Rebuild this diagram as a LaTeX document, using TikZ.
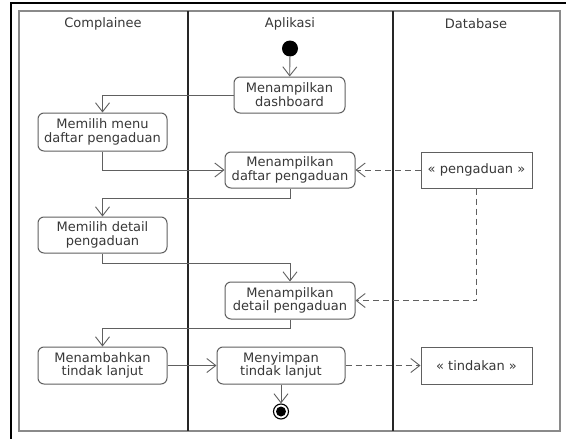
\documentclass[tikz,border=0pt]{standalone}
\usepackage{fontspec}
\setmainfont{DejaVu Sans}
\usetikzlibrary{arrows.meta}
\definecolor{txt}{HTML}{383838}
\definecolor{edge}{HTML}{606060}
\definecolor{frame}{HTML}{8A8A8A}
\begin{document}
\begin{tikzpicture}[x=1pt,y=-1pt,
  every node/.style={font=\fontsize{13}{13.8}\selectfont,text=txt,align=center,inner sep=0pt},
  act/.style={draw=edge,line width=1pt,rounded corners=6pt,minimum height=36pt},
  obj/.style={draw=edge,line width=1pt,minimum height=36pt},
  flow/.style={draw=edge,line width=0.9pt,-{Straight Barb[length=9pt,width=14pt,line width=0.9pt]}},
  objflow/.style={flow,dash pattern=on 6pt off 4pt}]
\useasboundingbox (0,0) rectangle (566,439);
\fill[white] (0,0) rectangle (566,439);
% outer frame (left and top edges)
\draw[black,line width=1.6pt] (11,439) -- (11,3) -- (566,3);
% swimlanes
\draw[frame,line width=1.1pt] (19,11) rectangle (560,431);
\draw[black!85,line width=1.1pt] (188,11) -- (188,431);
\draw[black!85,line width=1.1pt] (393,11) -- (393,431);
\node (hc) at (103,24) {Complainee};
\node (ha) at (290,24) {Aplikasi};
\node (hd) at (476,24) {Database};
% actions and objects
\node[circle,fill=black,minimum size=16pt] (start) at (290,48.5) {};
\node[act,minimum width=111pt] (dash) at (289.5,95) {Menampilkan\\dashboard};
\node[act,minimum width=129pt,minimum height=38pt] (menu) at (102.5,132) {Memilih menu\\daftar pengaduan};
\node[act,minimum width=130pt] (daftar) at (290,170) {Menampilkan\\daftar pengaduan};
\node[obj,minimum width=111pt] (peng) at (476.5,170) {« pengaduan »};
\node[act,minimum width=129pt] (detail) at (102.5,235) {Memilih detail\\pengaduan};
\node[act,minimum width=130pt,minimum height=37pt] (showdet) at (290,300.5) {Menampilkan\\detail pengaduan};
\node[act,minimum width=129pt,minimum height=37pt] (tambah) at (102.5,365.5) {Menambahkan\\tindak lanjut};
\node[act,minimum width=128pt,minimum height=37pt] (simpan) at (281,365.5) {Menyimpan\\tindak lanjut};
\node[obj,minimum width=111pt,minimum height=37pt] (tind) at (476.5,365.5) {« tindakan »};
\node[circle,draw=black,line width=1.1pt,minimum size=15pt] (end) at (281,411.5) {};
\fill[black] (end.center) circle (5pt);
% control flow
\draw[flow] (start) -- (dash);
\draw[flow] (dash.west) -| (menu.north);
\draw[flow] (menu.south) |- (daftar.west);
\draw[flow] (daftar.south) -- ++(0,10) -| (detail.north);
\draw[flow] (detail.south) -- ++(0,10) -| (showdet.north);
\draw[flow] (showdet.south) -- ++(0,9) -| (tambah.north);
\draw[flow] (tambah.east) -- (simpan.west);
\draw[flow] (simpan.south) -- (end.north);
% object flow
\draw[objflow] (peng.west) -- (daftar.east);
\draw[objflow] (peng.south) |- (showdet.east);
\draw[objflow] (simpan.east) -- (tind.west);
\end{tikzpicture}
\end{document}
